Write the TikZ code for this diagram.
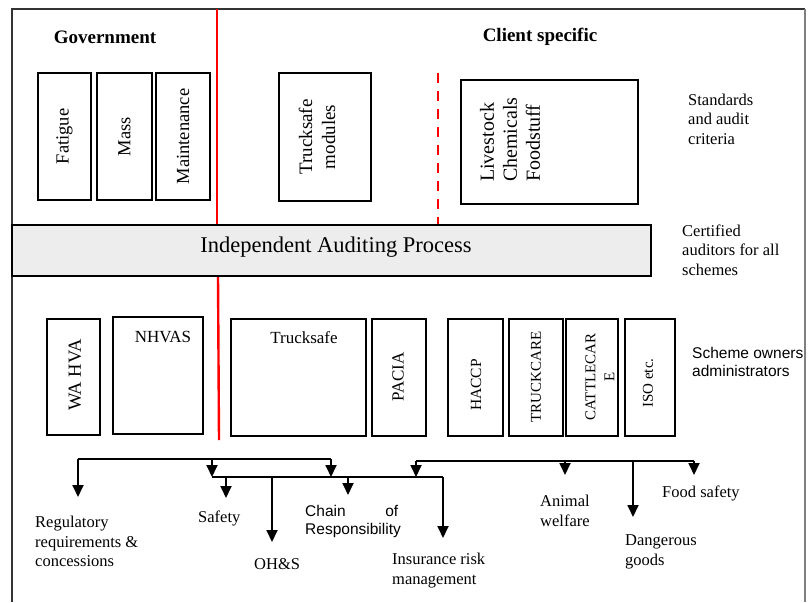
\documentclass[tikz,border=0pt]{standalone}
\usepackage{fontspec}
\setmainfont{Liberation Serif}
\newfontfamily\arialf{Liberation Sans}
\usetikzlibrary{arrows.meta}
\begin{document}
\begin{tikzpicture}[x=1pt,y=-1pt,
  box/.style={draw=black,line width=1.5pt,inner sep=0pt},
  vtxt/.style={rotate=90,inner sep=0pt,align=center,font=\fontsize{18.5}{22}\selectfont},
  vsmall/.style={rotate=90,inner sep=0pt,align=center,font=\fontsize{15.5}{19}\selectfont},
  htxt/.style={inner sep=0pt,font=\fontsize{17}{20}\selectfont},
  lbl/.style={anchor=west,align=left,inner sep=0pt,font=\fontsize{16.5}{19.5}\selectfont},
  slbl/.style={anchor=west,align=left,inner sep=0pt,font=\arialf\fontsize{15.5}{18}\selectfont},
  head/.style={inner sep=0pt,font=\bfseries\fontsize{19}{22}\selectfont},
  redline/.style={draw=red,line width=2.4pt},
  redDash/.style={draw=red,line width=2.6pt,dash pattern=on 10pt off 8pt},
  link/.style={draw=black,line width=1.8pt},
  arr/.style={draw=black,line width=1.8pt,-{Triangle[width=11pt,length=12pt]}}
]
\useasboundingbox (0,0) rectangle (810,602);
% frame
\draw[draw=black!80,line width=1.5pt] (12,602) -- (12,9) -- (805,9);
\draw[draw=black!50,line width=1.2pt] (805,9) -- (805,602);

% headings
\node[head] (gov) at (105,37) {Government};
\node[head] (cli) at (540,37) {Client specific};

% red dividers
\draw[redline] (217,9) -- (217,225);
\draw[redline] (218,276) -- (219,440);
\draw[redDash] (438,73) -- (438,225);

% top row boxes
\node[box,minimum width=53pt,minimum height=127pt] (fat) at (64.5,136.5) {};
\node[vtxt] at (fat) {Fatigue};
\node[box,minimum width=55pt,minimum height=127pt] (mass) at (124.5,136.5) {};
\node[vtxt] at (mass) {Mass};
\node[box,minimum width=54pt,minimum height=127pt] (mnt) at (183,136.5) {};
\node[vtxt] at (mnt) {Maintenance};
\node[box,minimum width=92pt,minimum height=128pt] (tsm) at (325,137) {};
\node[vtxt,font=\fontsize{19}{23}\selectfont] at (317,137) {Trucksafe\\modules};
\node[box,minimum width=177pt,minimum height=124pt] (lcf) at (549.5,142) {};
\node[vtxt,anchor=west,align=left,font=\fontsize{20}{23}\selectfont] at (510,182) {Livestock\\Chemicals\\Foodstuff};

\node[lbl] (std) at (688,119) {Standards\\and audit\\criteria};

% auditing process
\node[box,fill=black!7,minimum width=639pt,minimum height=51pt] (iap) at (331.5,250.5) {};
\node[inner sep=0pt,font=\fontsize{22.5}{26}\selectfont] at (336,247) {Independent Auditing Process};
\node[lbl] (cert) at (682,250) {Certified\\auditors for all\\schemes};

% bottom row boxes
\node[box,minimum width=53pt,minimum height=116pt] (wa) at (73.5,377) {};
\node[vtxt] at (75,375) {WA HVA};
\node[box,minimum width=90pt,minimum height=117pt] (nh) at (158,375.5) {};
\node[htxt] at (163,337) {NHVAS};
\node[box,minimum width=135pt,minimum height=117pt] (ts) at (298.5,377.5) {};
\node[htxt] at (304,338) {Trucksafe};
\node[box,minimum width=54pt,minimum height=117pt] (pa) at (399,377.5) {};
\node[vtxt,font=\fontsize{17}{20}\selectfont] at (398,377) {PACIA};
\node[box,minimum width=55pt,minimum height=117pt] (ha) at (475.5,377.5) {};
\node[vsmall] at (476,385) {HACCP};
\node[box,minimum width=54pt,minimum height=117pt] (tc) at (536,377.5) {};
\node[vsmall,font=\fontsize{15}{19}\selectfont] at (536,377) {TRUCKCARE};
\node[box,minimum width=52pt,minimum height=117pt] (cc) at (592,377.5) {};
\node[vsmall,font=\fontsize{15}{19}\selectfont] at (600,377) {CATTLECAR\\E};
\node[box,minimum width=50pt,minimum height=117pt] (iso) at (650,377.5) {};
\node[vsmall,font=\fontsize{15}{19}\selectfont] at (648,383) {ISO etc.};

\node[slbl] (own) at (692,361.5) {Scheme owners\\administrators};

% tree coordinates
\coordinate (la) at (78,459);
\coordinate (lb) at (212,459);
\coordinate (lc) at (331,459);
\coordinate (ma) at (212,477);
\coordinate (mb) at (226,477);
\coordinate (mc) at (272,477);
\coordinate (md) at (331,477);
\coordinate (me) at (348,477);
\coordinate (mf) at (416,477);
\coordinate (mg) at (443,477);
\coordinate (ra) at (416,461);
\coordinate (rb) at (565,461);
\coordinate (rc) at (633,461);
\coordinate (rd) at (694,461);

\coordinate (tReg) at (78,497);
\coordinate (tSaf) at (226,498);
\coordinate (tOhs) at (272,542);
\coordinate (tCha) at (348,495);
\coordinate (tIns) at (443,538);
\coordinate (tAni) at (565,475);
\coordinate (tDan) at (633,517);
\coordinate (tFoo) at (694,475);

% connectors
\draw[link] (la) -- (lc);
\draw[link] (ma) -- (mg);
\draw[link] (ra) -- (rd);
\draw[arr] (la) -- (tReg);
\draw[arr] (lb) -- (ma);
\draw[arr] (lc) -- (md);
\draw[arr] (ra) -- (mf);
\draw[arr] (mb) -- (tSaf);
\draw[arr] (mc) -- (tOhs);
\draw[arr] (me) -- (tCha);
\draw[arr] (mg) -- (tIns);
\draw[arr] (rb) -- (tAni);
\draw[arr] (rc) -- (tDan);
\draw[arr] (rd) -- (tFoo);

% bottom labels
\node[lbl] (reg) at (35,541.5) {Regulatory\\requirements \&\\concessions};
\node[lbl] (saf) at (198,518) {Safety};
\node[lbl] (ohs) at (254,564) {OH\&S};
\node[slbl] (cha) at (305,521.5) {\makebox[93pt][l]{Chain\hfill of}\\Responsibility};
\node[lbl] (ins) at (392,570.5) {Insurance risk\\management};
\node[lbl] (ani) at (540,511) {Animal\\welfare};
\node[lbl] (dan) at (625,552) {Dangerous\\goods};
\node[lbl] (foo) at (662,493) {Food safety};
\end{tikzpicture}
\end{document}
